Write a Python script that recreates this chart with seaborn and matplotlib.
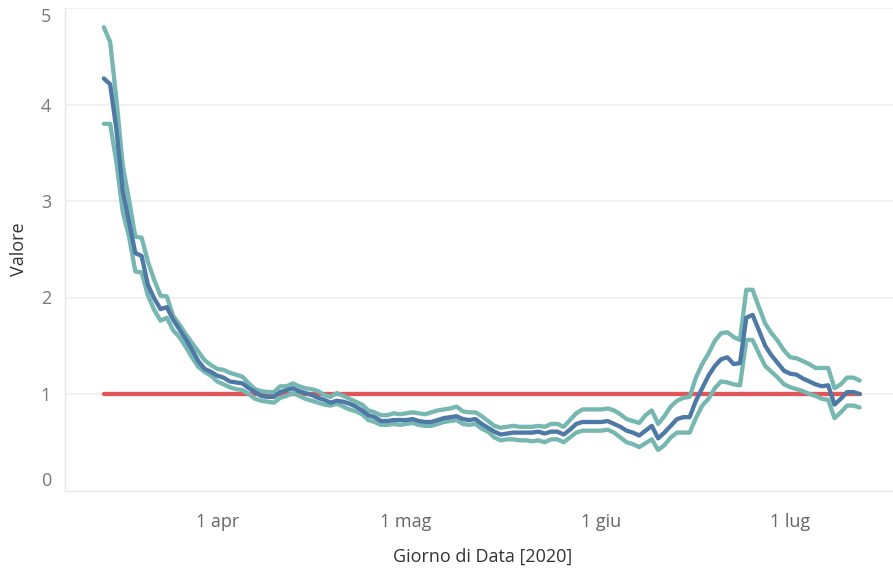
import pandas as pd
import matplotlib
matplotlib.use("Agg")
import matplotlib.pyplot as plt
import seaborn as sns

# daily values, 14 Mar 2020 -> 12 Jul 2020
start = "2020-03-14"
centrale = [4.27, 4.21, 3.74, 3.11, 2.78, 2.46, 2.43, 2.13, 1.99, 1.88,
            1.90, 1.77, 1.67, 1.57, 1.46, 1.34, 1.26, 1.23, 1.19, 1.17,
            1.13, 1.12, 1.11, 1.06, 1.02, 0.98, 0.97, 0.97, 1.02, 1.04,
            1.06, 1.03, 1.01, 0.99, 0.96, 0.94, 0.91, 0.93, 0.92, 0.90,
            0.87, 0.83, 0.78, 0.76, 0.72, 0.72, 0.73, 0.73, 0.73, 0.74,
            0.72, 0.71, 0.71, 0.73, 0.75, 0.76, 0.77, 0.74, 0.73, 0.74,
            0.69, 0.65, 0.61, 0.58, 0.59, 0.60, 0.60, 0.60, 0.60, 0.61,
            0.59, 0.61, 0.61, 0.58, 0.63, 0.69, 0.71, 0.71, 0.71, 0.71,
            0.72, 0.69, 0.66, 0.62, 0.60, 0.57, 0.62, 0.67, 0.54, 0.60,
            0.67, 0.74, 0.76, 0.76, 0.93, 1.06, 1.19, 1.29, 1.36, 1.38,
            1.31, 1.32, 1.79, 1.82, 1.66, 1.50, 1.40, 1.32, 1.24, 1.21,
            1.20, 1.16, 1.13, 1.10, 1.08, 1.09, 0.89, 0.95, 1.02, 1.02,
            1.00]
superiore = [4.80, 4.65, 4.05, 3.37, 3.01, 2.63, 2.62, 2.37, 2.18, 2.02,
             2.01, 1.81, 1.72, 1.62, 1.53, 1.44, 1.35, 1.30, 1.26, 1.25,
             1.22, 1.20, 1.18, 1.11, 1.05, 1.03, 1.02, 1.02, 1.08, 1.08,
             1.11, 1.08, 1.06, 1.05, 1.03, 0.99, 0.97, 1.01, 0.98, 0.95,
             0.92, 0.89, 0.83, 0.81, 0.78, 0.78, 0.80, 0.79, 0.80, 0.81,
             0.80, 0.79, 0.81, 0.83, 0.84, 0.85, 0.87, 0.82, 0.81, 0.81,
             0.77, 0.72, 0.67, 0.65, 0.66, 0.67, 0.66, 0.66, 0.66, 0.67,
             0.66, 0.69, 0.69, 0.66, 0.73, 0.80, 0.84, 0.84, 0.84, 0.84,
             0.85, 0.83, 0.79, 0.74, 0.72, 0.70, 0.78, 0.83, 0.69, 0.77,
             0.87, 0.93, 0.96, 0.97, 1.17, 1.31, 1.42, 1.55, 1.63, 1.64,
             1.59, 1.56, 2.08, 2.08, 1.90, 1.73, 1.63, 1.55, 1.45, 1.38,
             1.37, 1.34, 1.31, 1.27, 1.27, 1.27, 1.06, 1.10, 1.17, 1.17,
             1.14]
inferiore = [3.80, 3.80, 3.40, 2.89, 2.63, 2.27, 2.26, 2.02, 1.87, 1.76,
             1.79, 1.66, 1.59, 1.49, 1.38, 1.28, 1.23, 1.19, 1.13, 1.10,
             1.07, 1.05, 1.04, 1.00, 0.95, 0.93, 0.92, 0.91, 0.96, 0.98,
             1.01, 0.98, 0.95, 0.93, 0.91, 0.89, 0.88, 0.90, 0.87, 0.84,
             0.82, 0.79, 0.73, 0.71, 0.68, 0.68, 0.69, 0.68, 0.69, 0.70,
             0.68, 0.67, 0.67, 0.69, 0.71, 0.72, 0.73, 0.69, 0.68, 0.69,
             0.64, 0.61, 0.55, 0.52, 0.53, 0.53, 0.52, 0.52, 0.51, 0.52,
             0.50, 0.53, 0.53, 0.50, 0.55, 0.60, 0.62, 0.62, 0.62, 0.62,
             0.63, 0.60, 0.55, 0.50, 0.48, 0.45, 0.49, 0.53, 0.42, 0.47,
             0.55, 0.60, 0.60, 0.60, 0.75, 0.88, 0.95, 1.06, 1.13, 1.12,
             1.10, 1.09, 1.56, 1.56, 1.42, 1.29, 1.23, 1.17, 1.10, 1.07,
             1.05, 1.03, 1.00, 0.98, 0.95, 0.94, 0.75, 0.81, 0.88, 0.88,
             0.86]
soglia = 1

x_ticks = ["2020-04-01", "2020-05-01", "2020-06-01", "2020-07-01"]
x_labels = ["1 apr", "1 mag", "1 giu", "1 lug"]
y_ticks = [0, 1, 2, 3, 4, 5]

df = pd.DataFrame({
    "data": pd.date_range(start, periods=len(centrale), freq="D"),
    "superiore": superiore,
    "centrale": centrale,
    "inferiore": inferiore,
})
df["soglia"] = soglia

sns.set_style("white")
plt.rcParams["font.family"] = ["Open Sans", "DejaVu Sans"]

fig = plt.figure(figsize=(8.93, 5.72), dpi=100)
ax = fig.add_axes([65 / 893, 1 - 490.5 / 572, (893 - 65) / 893, (490.5 - 8) / 572])

sns.lineplot(data=df, x="data", y="soglia", color="#e15759", linewidth=3.1, ax=ax,
             solid_capstyle="round")
sns.lineplot(data=df, x="data", y="superiore", color="#76b7b2", linewidth=3.1, ax=ax,
             solid_capstyle="round")
sns.lineplot(data=df, x="data", y="inferiore", color="#76b7b2", linewidth=3.1, ax=ax,
             solid_capstyle="round")
sns.lineplot(data=df, x="data", y="centrale", color="#4e79a7", linewidth=3.1, ax=ax,
             solid_capstyle="round")

ax.set_ylim(0, 5)
ax.set_xlim(pd.Timestamp("2020-03-07 20:00"), pd.Timestamp("2020-07-17 07:00"))
ax.set_yticks(y_ticks)
ax.set_yticklabels([str(v) for v in y_ticks])
ax.set_xticks(pd.to_datetime(x_ticks))
ax.set_xticklabels(x_labels)

for y in y_ticks[1:]:
    ax.axhline(y, color="#efefef", linewidth=1.2, zorder=0)

for s in ["top", "right"]:
    ax.spines[s].set_visible(False)
for s in ["left", "bottom"]:
    ax.spines[s].set_color("#e6e6e6")
    ax.spines[s].set_linewidth(1)

ax.tick_params(axis="y", length=0, pad=10, labelsize=13, labelcolor="#777777")
ax.tick_params(axis="x", length=6, width=1, color="#e6e6e6", pad=10,
               labelsize=13, labelcolor="#666666")
ylabs = ax.get_yticklabels()
ylabs[0].set_verticalalignment("bottom")
ylabs[-1].set_verticalalignment("top")

ax.set_ylabel("Valore", fontsize=13, color="#333333")
ax.set_xlabel("Giorno di Data [2020]", fontsize=13, color="#333333")
ax.yaxis.set_label_coords(-(65 - 19) / 828, 0.5)
ax.xaxis.set_label_coords((483 - 65) / 828, -(557 - 490.5) / 482.5)
ax.xaxis.label.set_verticalalignment("center")
ax.yaxis.label.set_verticalalignment("center")

fig.savefig("out.png", dpi=100)
